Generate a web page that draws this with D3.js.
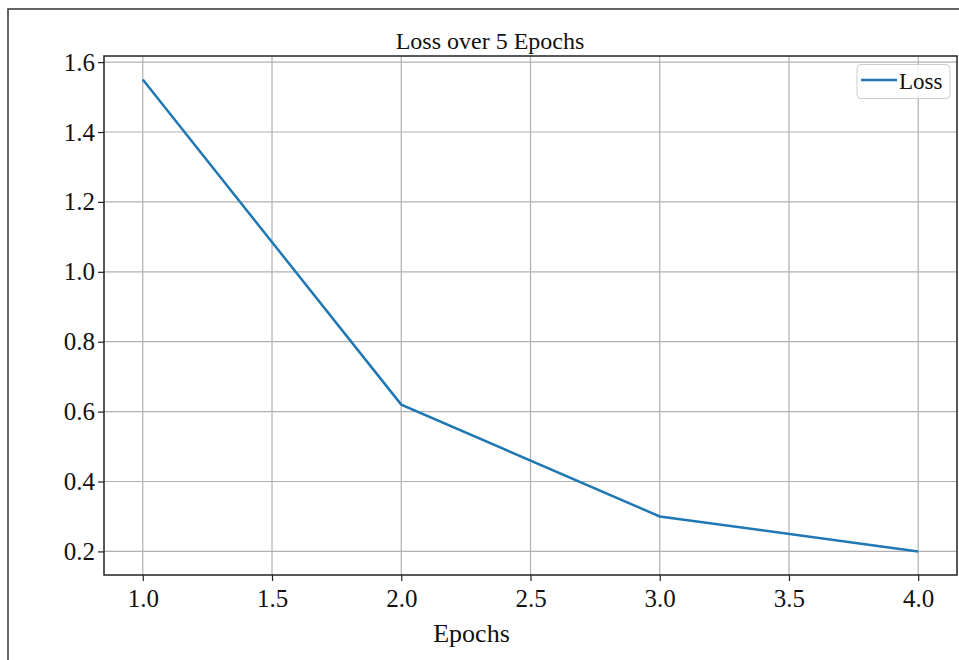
<!DOCTYPE html>
<html>
<head>
<meta charset="utf-8">
<script src="https://cdn.jsdelivr.net/npm/d3@7"></script>
<style>
  body { margin: 0; background: #fff; }
  svg { display: block; }
</style>
</head>
<body>
<script>
const width = 959;
const height = 660;

// Données du graphique
const epochs = [1, 2, 3, 4];
const lossValues = [1.55, 0.62, 0.30, 0.20];
const xTicks = [1.0, 1.5, 2.0, 2.5, 3.0, 3.5, 4.0];
const yTicks = [0.2, 0.4, 0.6, 0.8, 1.0, 1.2, 1.4, 1.6];
const seriesName = "Loss";
const chartTitle = "Loss over 5 Epochs";
const xLabel = "Epochs";

const plot = { left: 104, top: 56, right: 957, bottom: 575 };
const font = "'Liberation Serif', 'Times New Roman', serif";

const svg = d3.select("body")
    .append("svg")
    .attr("width", width)
    .attr("height", height);

// Cadre extérieur de la figure
svg.append("rect")
    .attr("x", 8)
    .attr("y", 9)
    .attr("width", 980)
    .attr("height", 700)
    .attr("fill", "none")
    .attr("stroke", "#333")
    .attr("stroke-width", 1.5);

// Marges de 5% comme matplotlib
const xPad = (d3.max(epochs) - d3.min(epochs)) * 0.05;
const yPad = (d3.max(lossValues) - d3.min(lossValues)) * 0.05;

const x = d3.scaleLinear()
    .domain([d3.min(epochs) - xPad, d3.max(epochs) + xPad])
    .range([plot.left, plot.right]);

const y = d3.scaleLinear()
    .domain([d3.min(lossValues) - yPad, d3.max(lossValues) + yPad])
    .range([plot.bottom, plot.top]);

// Grille
svg.append("g")
    .selectAll("line")
    .data(xTicks)
    .enter()
    .append("line")
    .attr("x1", d => x(d)).attr("x2", d => x(d))
    .attr("y1", plot.top).attr("y2", plot.bottom)
    .attr("stroke", "#b0b0b0")
    .attr("stroke-width", 1.2);

svg.append("g")
    .selectAll("line")
    .data(yTicks)
    .enter()
    .append("line")
    .attr("x1", plot.left).attr("x2", plot.right)
    .attr("y1", d => y(d)).attr("y2", d => y(d))
    .attr("stroke", "#b0b0b0")
    .attr("stroke-width", 1.2);

// Axes
const xAxis = svg.append("g")
    .attr("transform", `translate(0,${plot.bottom})`)
    .call(d3.axisBottom(x).tickValues(xTicks).tickFormat(d3.format(".1f")).tickSize(6).tickSizeOuter(0));

const yAxis = svg.append("g")
    .attr("transform", `translate(${plot.left},0)`)
    .call(d3.axisLeft(y).tickValues(yTicks).tickFormat(d3.format(".1f")).tickSize(6).tickSizeOuter(0));

[xAxis, yAxis].forEach(a => {
    a.select(".domain").remove();
    a.selectAll(".tick line").attr("stroke", "#222").attr("stroke-width", 1.2);
    a.selectAll(".tick text")
        .attr("font-family", font)
        .attr("font-size", "25px")
        .attr("fill", "#111");
});
xAxis.selectAll(".tick text").attr("y", 14);
yAxis.selectAll(".tick text").attr("x", -9);

// Cadre du graphique
svg.append("rect")
    .attr("x", plot.left)
    .attr("y", plot.top)
    .attr("width", plot.right - plot.left)
    .attr("height", plot.bottom - plot.top)
    .attr("fill", "none")
    .attr("stroke", "#222")
    .attr("stroke-width", 1.5);

// Courbe de perte
const line = d3.line()
    .x((d, i) => x(epochs[i]))
    .y(d => y(d));

svg.append("path")
    .datum(lossValues)
    .attr("d", line)
    .attr("fill", "none")
    .attr("stroke", "#1f77b4")
    .attr("stroke-width", 2.5);

// Titre et libellé
svg.append("text")
    .attr("x", 490)
    .attr("y", 49)
    .attr("text-anchor", "middle")
    .attr("font-family", font)
    .attr("font-size", "24px")
    .attr("fill", "#111")
    .text(chartTitle);

svg.append("text")
    .attr("x", 471.5)
    .attr("y", 642)
    .attr("text-anchor", "middle")
    .attr("font-family", font)
    .attr("font-size", "26px")
    .attr("fill", "#111")
    .text(xLabel);

// Légende
const legend = svg.append("g").attr("transform", "translate(857,64.5)");
legend.append("rect")
    .attr("width", 93)
    .attr("height", 34)
    .attr("rx", 4)
    .attr("ry", 4)
    .attr("fill", "#fff")
    .attr("fill-opacity", 0.8)
    .attr("stroke", "#ccc");
legend.append("line")
    .attr("x1", 4).attr("x2", 40)
    .attr("y1", 15.5).attr("y2", 15.5)
    .attr("stroke", "#1f77b4")
    .attr("stroke-width", 2.5);
legend.append("text")
    .attr("x", 42)
    .attr("y", 24.5)
    .attr("font-family", font)
    .attr("font-size", "23px")
    .attr("fill", "#111")
    .text(seriesName);
</script>
</body>
</html>
